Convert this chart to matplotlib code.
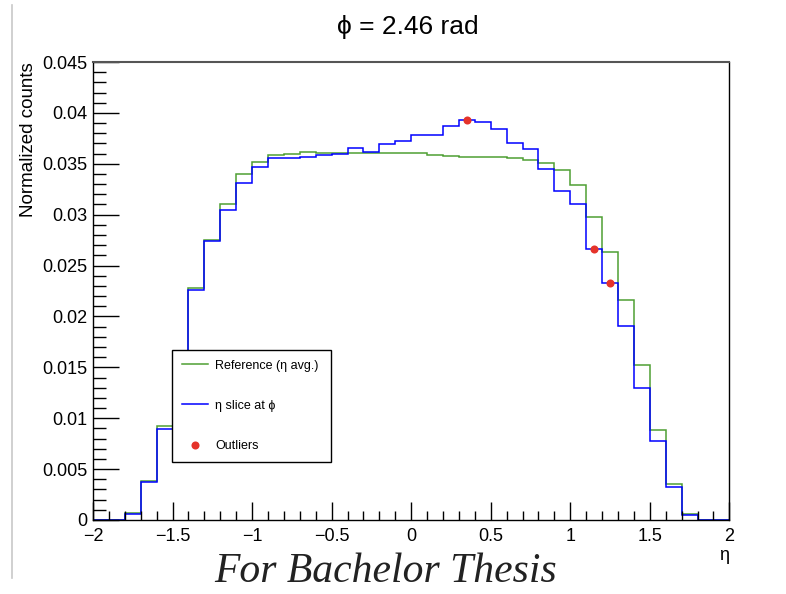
import numpy as np
import matplotlib
matplotlib.use("Agg")
import matplotlib.pyplot as plt
from matplotlib.ticker import MultipleLocator, FuncFormatter
from matplotlib.lines import Line2D

plt.rcParams['font.family'] = ['Liberation Sans', 'DejaVu Sans']

# eta binning: 40 bins from -2 to 2
bin_edges = np.linspace(-2.0, 2.0, 41)

# reference histogram (eta average), green
ref_counts = [0, 0, 0.00066, 0.00386, 0.0092, 0.0157, 0.0228, 0.0275, 0.0310, 0.0340,
              0.0352, 0.0359, 0.0360, 0.0362, 0.0361, 0.0361, 0.0361, 0.0361, 0.0361, 0.0361,
              0.0361, 0.0359, 0.0358, 0.0357, 0.0357, 0.0357, 0.0356, 0.0354, 0.0351, 0.0344,
              0.0329, 0.0298, 0.0263, 0.0216, 0.0152, 0.0088, 0.0035, 0.0006, 0, 0]

# eta slice at phi = 2.46 rad, blue
slice_counts = [0, 0, 0.00056, 0.00373, 0.00897, 0.0155, 0.0226, 0.0274, 0.0305, 0.0331,
                0.0347, 0.0356, 0.0356, 0.0357, 0.0359, 0.0360, 0.03655, 0.0362, 0.0369, 0.0372,
                0.0378, 0.0378, 0.0387, 0.0393, 0.0391, 0.0384, 0.0370, 0.0365, 0.0345, 0.0323,
                0.0310, 0.0266, 0.0233, 0.0191, 0.0130, 0.0078, 0.0032, 0.0005, 0, 0]

# outlier bins
outlier_eta = [0.35, 1.15, 1.25]
outlier_val = [0.0393, 0.0266, 0.0233]

title_text = "\u03d5 = 2.46 rad"

fig = plt.figure(figsize=(7.86, 5.94), dpi=100)
ax = fig.add_axes([0.1183, 0.1246, 0.8096, 0.771])

ax.stairs(ref_counts, bin_edges, color="#4e9f33", lw=1.1, label="Reference (\u03b7 avg.)")
ax.stairs(slice_counts, bin_edges, color="#0000ff", lw=1.1, label="\u03b7 slice at \u03d5")
ax.plot(outlier_eta, outlier_val, "o", color="#e5332a", ms=5.8, mec="none", label="Outliers")

ax.set_xlim(-2, 2)
ax.set_ylim(0, 0.045)

ax.xaxis.set_major_locator(MultipleLocator(0.5))
ax.xaxis.set_minor_locator(MultipleLocator(0.1))
ax.yaxis.set_major_locator(MultipleLocator(0.005))
ax.yaxis.set_minor_locator(MultipleLocator(0.001))
fmt = FuncFormatter(lambda v, p: ("%g" % round(v, 4)).replace("-", "\u2212"))
ax.xaxis.set_major_formatter(fmt)
ax.yaxis.set_major_formatter(fmt)

ax.tick_params(axis="x", which="major", direction="in", length=13, width=1, labelsize=13, pad=6)
ax.tick_params(axis="x", which="minor", direction="in", length=6.5, width=1)
ax.tick_params(axis="y", which="major", direction="in", length=19, width=1, labelsize=13, pad=4)
ax.tick_params(axis="y", which="minor", direction="in", length=9.5, width=1)
for s in ax.spines.values():
    s.set_linewidth(1)
ax.spines["top"].set_color("#555555")
ax.spines["top"].set_linewidth(1.5)

ax.set_ylabel("Normalized counts", fontsize=13.5, loc="top", labelpad=4)
ax.set_xlabel("\u03b7", fontsize=13, loc="right", labelpad=1)
fig.text(0.519, 1 - 27/594, title_text, fontsize=19, ha="center", va="center")

leg = ax.legend(loc="lower left", bbox_to_anchor=(0.124, 0.1266, 0.25, 0.249),
                mode="expand", borderaxespad=0, fontsize=9, fancybox=False,
                edgecolor="black", framealpha=1, labelspacing=2.26, handlelength=2.1,
                borderpad=0.8, handletextpad=0.56)
leg.get_frame().set_linewidth(1)

# screenshot border line on the left
fig.add_artist(Line2D([12/786, 12/786], [1 - 5/594, 1 - 578/594], color="#c8c8c8", lw=1.2))

fig.text(0.49, 0.005, "For Bachelor Thesis", family="Liberation Serif", style="italic",
         fontsize=30, ha="center", va="bottom", color="#222222")

fig.savefig("out.png", dpi=100)
